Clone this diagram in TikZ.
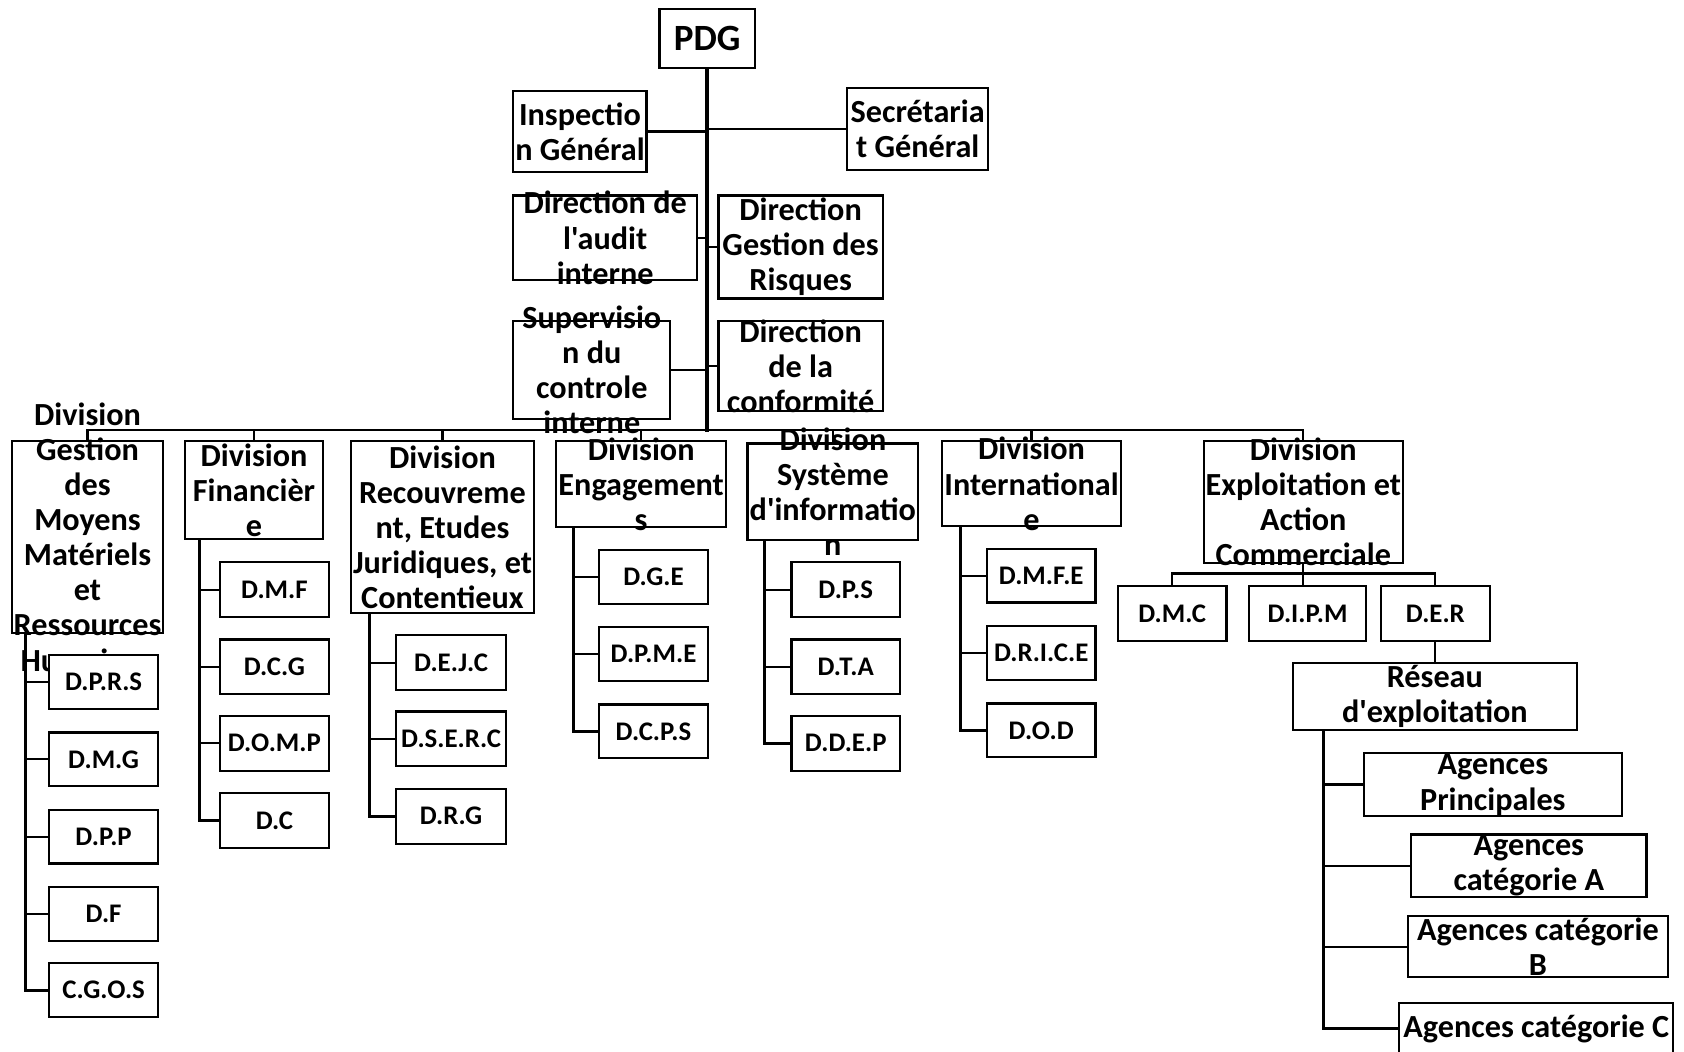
\documentclass[tikz,border=0pt]{standalone}
\usepackage{fontspec}
\newfontfamily\calib{Carlito}
\usetikzlibrary{calc}
\newcommand\bigtxt{\calib\bfseries\fontsize{30}{32.7}\selectfont}
\newcommand\smalltxt{\calib\bfseries\fontsize{25}{28}\selectfont}
\newcommand\toptxt{\calib\bfseries\fontsize{34.5}{40}\selectfont}
\tikzset{
  box/.style={draw, line width=2pt, fill=white, inner sep=0pt, outer sep=0pt},
  lbl/.style={align=center, inner sep=0pt, outer sep=0pt},
  link/.style={line width=2pt},
  spine/.style={line width=3pt},
  trunk/.style={line width=4pt},
}
% \orgbox[font]{name}{centre x}{centre y}{width}{height}{text}
\newcommand\orgbox[7][\bigtxt]{%
  \node[box, minimum width=#5pt, minimum height=#6pt] (#2) at (#3,#4) {};
  \node[lbl, font=#1] (#2-t) at (#2) {#7};}
\begin{document}
\begin{tikzpicture}[x=1pt,y=-1pt]
\useasboundingbox (0,0) rectangle (1568,979);
\fill[white] (0,0) rectangle (1568,979);

% direction generale
\orgbox[\toptxt]{pdg}{658.5}{35.5}{89}{55}{PDG}
\coordinate (bus) at (659,400.5);
\draw[trunk] (pdg.south) -- ([yshift=-1.5pt]pdg.south |- bus);

\orgbox{ig}{540}{122.5}{124}{75}{Inspectio\\n Général}
\orgbox{sg}{854.5}{120}{131}{76}{Secrétaria\\t Général}
\orgbox{dai}{563.5}{221.5}{171}{79}{Direction de\\l'audit\\interne}
\orgbox{dgr}{745.5}{230}{153}{96}{Direction\\Gestion des\\Risques}
\orgbox{sci}{551}{344.5}{146}{91}{Supervisio\\n du\\controle\\interne}
\orgbox{dc}{745.5}{341}{153}{84}{Direction\\de la\\conformité}
\foreach \n in {ig,dai,sci} \draw[link] (\n.east) -- (\n.east -| pdg.south);
\foreach \n in {sg,dgr,dc} \draw[link] (\n.west) -- (\n.west -| pdg.south);

% division gestion des moyens
\orgbox{dgm}{81.5}{500}{141}{178}{Division\\Gestion\\des\\Moyens\\Matériels\\et\\Ressources\\Humaines}
\coordinate (dgm-s) at ($(dgm.south west)+(13,0)$);
\orgbox[\smalltxt]{dprs}{96.5}{635}{101}{50}{D.P.R.S}
\orgbox[\smalltxt]{dmg}{96.5}{707}{101}{50}{D.M.G}
\orgbox[\smalltxt]{dpp}{96.5}{779}{101}{50}{D.P.P}
\orgbox[\smalltxt]{df}{96.5}{851}{101}{50}{D.F}
\orgbox[\smalltxt]{cgos}{96.5}{922}{101}{50}{C.G.O.S}
\draw[spine] (dgm-s) |- (cgos.west);
\foreach \n in {dprs,dmg,dpp,df} \draw[link] (\n.west) -- (\n.west -| dgm-s);

% division financiere
\orgbox{dfin}{236.5}{456.5}{129}{91}{Division\\Financièr\\e}
\coordinate (dfin-s) at ($(dfin.south west)+(14,0)$);
\orgbox[\smalltxt]{dmf}{255.5}{549}{101}{51}{D.M.F}
\orgbox[\smalltxt]{dcg}{255.5}{621}{101}{51}{D.C.G}
\orgbox[\smalltxt]{domp}{255.5}{692}{101}{51}{D.O.M.P}
\orgbox[\smalltxt]{dcx}{255.5}{764}{101}{51}{D.C}
\draw[spine] (dfin-s) |- (dcx.west);
\foreach \n in {dmf,dcg,domp} \draw[link] (\n.west) -- (\n.west -| dfin-s);

% division recouvrement
\orgbox{drec}{412}{491}{170}{160}{Division\\Recouvreme\\nt, Etudes\\Juridiques, et\\Contentieux}
\coordinate (drec-s) at ($(drec.south west)+(17,0)$);
\orgbox[\smalltxt]{dejc}{420}{617}{102}{51}{D.E.J.C}
\orgbox[\smalltxt]{dserc}{420}{688}{102}{51}{D.S.E.R.C}
\orgbox[\smalltxt]{drg}{420}{760}{102}{51}{D.R.G}
\draw[spine] (drec-s) |- (drg.west);
\foreach \n in {dejc,dserc} \draw[link] (\n.west) -- (\n.west -| drec-s);

% division engagements
\orgbox{deng}{597}{451}{158}{80}{Division\\Engagement\\s}
\coordinate (deng-s) at ($(deng.south west)+(16,0)$);
\orgbox[\smalltxt]{dge}{608.5}{537}{101}{50}{D.G.E}
\orgbox[\smalltxt]{dpme}{608.5}{609}{101}{50}{D.P.M.E}
\orgbox[\smalltxt]{dcps}{608.5}{681}{101}{50}{D.C.P.S}
\draw[spine] (deng-s) |- (dcps.west);
\foreach \n in {dge,dpme} \draw[link] (\n.west) -- (\n.west -| deng-s);

% division systeme d'information
\orgbox{dsi}{775.5}{458}{159}{90}{Division\\Système\\d'informatio\\n}
\coordinate (dsi-s) at ($(dsi.south west)+(16,0)$);
\orgbox[\smalltxt]{dps}{787.5}{549}{101}{51}{D.P.S}
\orgbox[\smalltxt]{dta}{787.5}{621}{101}{51}{D.T.A}
\orgbox[\smalltxt]{ddep}{787.5}{692}{101}{51}{D.D.E.P}
\draw[spine] (dsi-s) |- (ddep.west);
\foreach \n in {dps,dta} \draw[link] (\n.west) -- (\n.west -| dsi-s);

% division internationale
\orgbox{dint}{960.5}{450.5}{167}{79}{Division\\International\\e}
\coordinate (dint-s) at ($(dint.south west)+(17,0)$);
\orgbox[\smalltxt]{dmfe}{969.5}{536}{101}{50}{D.M.F.E}
\orgbox[\smalltxt]{drice}{969.5}{608}{101}{50}{D.R.I.C.E}
\orgbox[\smalltxt]{dod}{969.5}{680}{101}{50}{D.O.D}
\draw[spine] (dint-s) |- (dod.west);
\foreach \n in {dmfe,drice} \draw[link] (\n.west) -- (\n.west -| dint-s);

% division exploitation et action commerciale
\orgbox{dexp}{1213.5}{467.5}{185}{113}{Division\\Exploitation et\\Action\\Commerciale}
\coordinate (dexp-b) at (1214,534);
\orgbox[\smalltxt]{dmc}{1091.5}{571.5}{101}{51}{D.M.C}
\orgbox[\smalltxt]{dipm}{1217.5}{571.5}{109}{51}{D.I.P.M}
\orgbox[\smalltxt]{der}{1336.5}{571.5}{101}{51}{D.E.R}
\draw[link] (dexp.south) -- (dexp.south |- dipm.north);
\draw[link] (dmc.north) |- (dexp-b) -| (der.north);

\orgbox{res}{1336}{648.5}{264}{63}{Réseau\\d'exploitation}
\draw[link] (der.south) -- (der.south |- res.north);
\coordinate (res-s) at ($(res.south west)+(28,0)$);
\orgbox{agp}{1390}{730.5}{240}{59}{Agences\\Principales}
\orgbox{aga}{1423.5}{806}{219}{58}{Agences\\catégorie A}
\orgbox{agb}{1432}{881.5}{242}{57}{Agences catégorie\\B}
\orgbox{agc}{1430.5}{958}{255}{48}{Agences catégorie C}
\draw[spine] (res-s) |- (agc.west);
\foreach \n in {agp,aga,agb} \draw[link] (\n.west) -- (\n.west -| res-s);

% liaison des divisions
\draw[link] (dgm.north) |- (bus) -| (dexp.north);
\foreach \n in {dfin,drec,deng,dsi,dint} \draw[link] (\n.north) -- (\n.north |- bus);
\end{tikzpicture}
\end{document}
